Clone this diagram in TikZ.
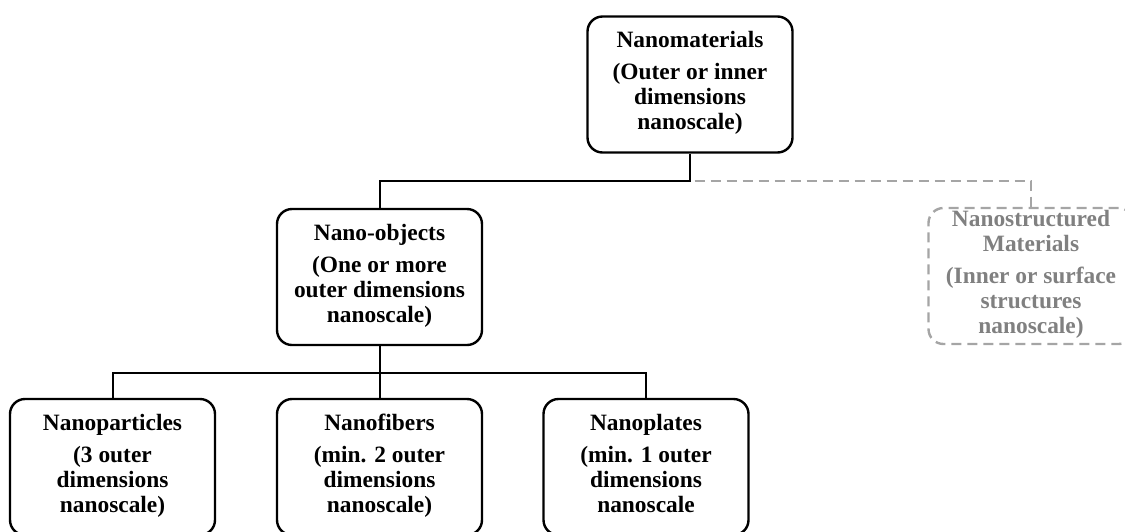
\documentclass[tikz,border=0pt]{standalone}
\usepackage{fontspec}
\setmainfont{Liberation Serif}
\definecolor{faintline}{RGB}{165,165,165}
\definecolor{fainttext}{RGB}{128,128,128}
\tikzset{
  catbox/.style = {draw, line width=1.2pt, rounded corners=7.5pt, align=center,
                   minimum width=102.5pt, minimum height=68pt, inner sep=0pt,
                   font=\fontsize{11.7}{12.5}\selectfont\bfseries},
  ghostbox/.style = {catbox, draw=faintline, text=fainttext, dash pattern=on 5pt off 3pt},
  link/.style = {line width=1pt},
  ghostlink/.style = {line width=1pt, faintline, dash pattern=on 5pt off 3pt}
}
\begin{document}
\begin{tikzpicture}[x=0.5pt, y=-0.5pt]
\useasboundingbox (0,0) rectangle (1125,531);

\node[catbox] (materials) at (690,84.5) {Nanomaterials\\[3.5pt](Outer or inner\\ dimensions\\ nanoscale)\strut};
\node[catbox] (objects) at (379.5,277) {Nano-objects\\[3.5pt](One or more\\ outer dimensions\\ nanoscale)\strut};
\node[ghostbox] (structured) at (1031,276) {Nanostructured\\ Materials\\[3.5pt](Inner or surface\\ structures\\ nanoscale)\strut};

\foreach \name/\x/\title/\sub in {particles/112.5/Nanoparticles/{(3 outer\\ dimensions\\ nanoscale)},
   fibers/379.5/Nanofibers/{(min. 2 outer\\ dimensions\\ nanoscale)},
   plates/646/Nanoplates/{(min. 1 outer\\ dimensions\\ nanoscale}}{
   \node[catbox] (\name) at (\x,467) {\title\\[3.5pt]\sub\strut};
   }

\coordinate (split) at (690,181);
\coordinate (fork) at (379.5,373);

\draw[ghostlink] (materials.south) -- (split) -| (structured.north);
\draw[link] (materials.south) -- (split) -| (objects.north);
\draw[link] (objects.south) -- (fork) -- (fibers.north);
\draw[link] (particles.north) |- (fork) -| (plates.north);

\end{tikzpicture}
\end{document}
